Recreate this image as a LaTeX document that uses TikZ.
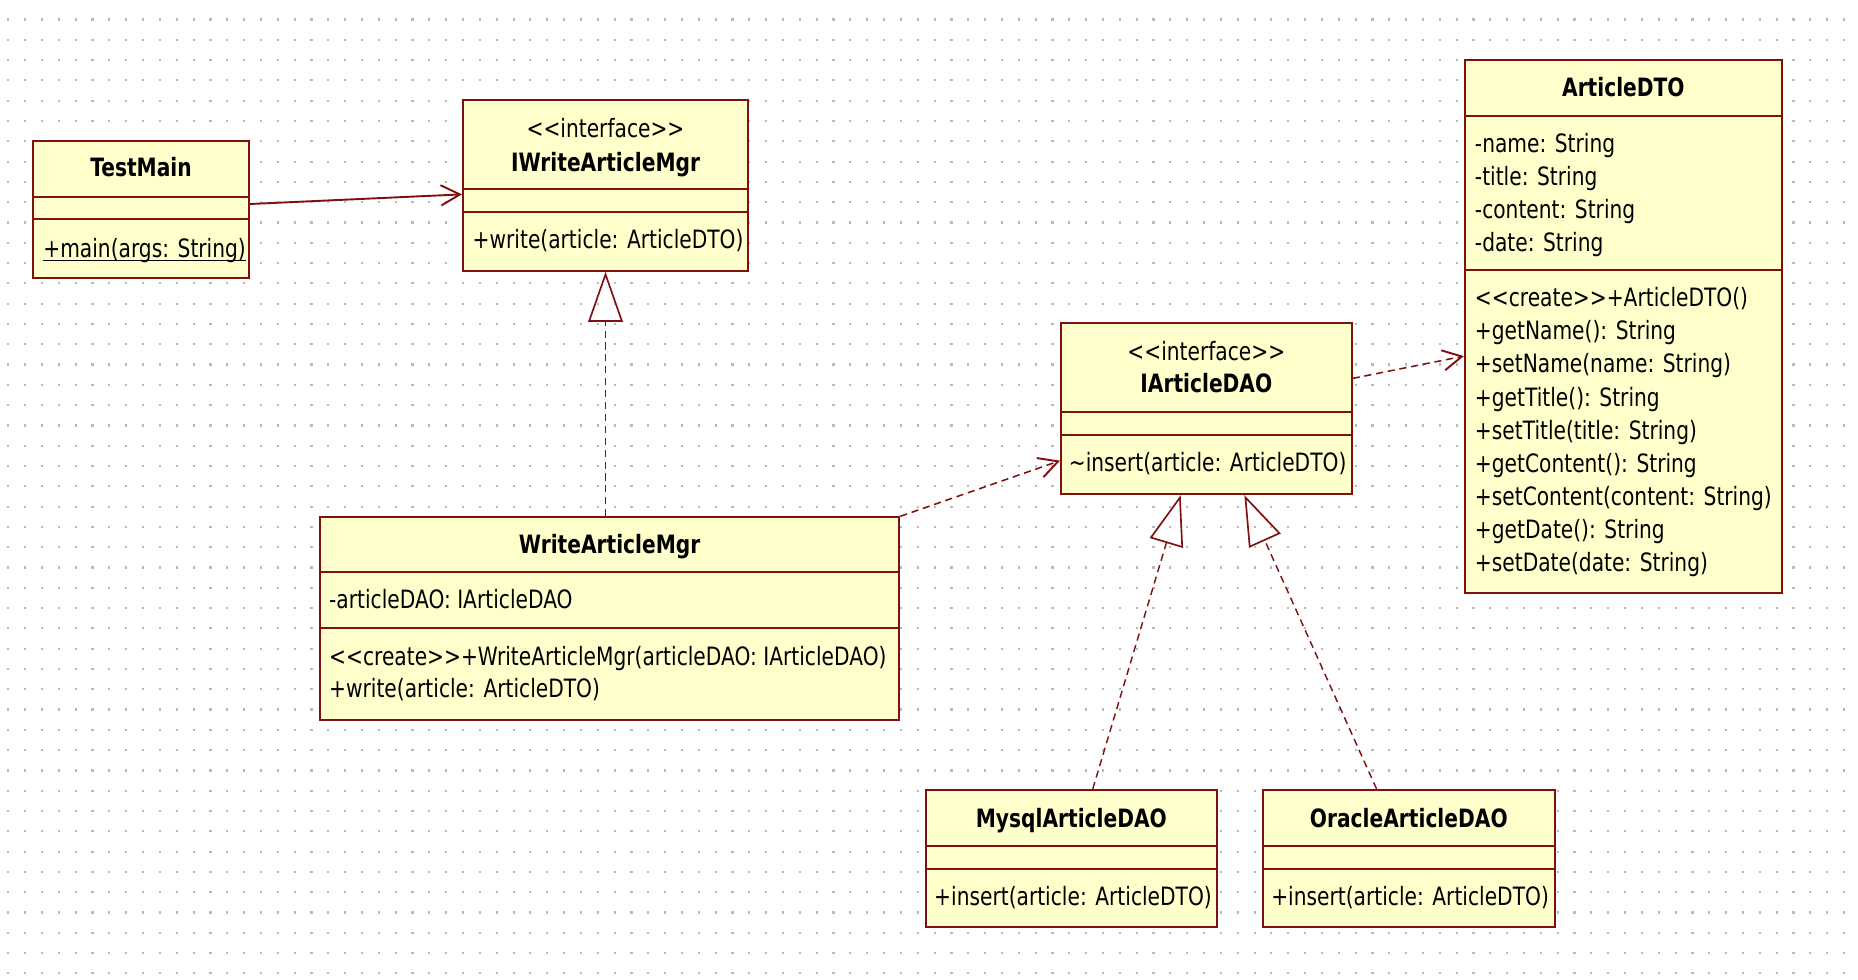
\documentclass[tikz,border=0pt]{standalone}
\usepackage{fontspec}
\setmainfont{DejaVu Sans}[FakeStretch=0.8]
\usetikzlibrary{arrows.meta,fit}

\definecolor{umlred}{RGB}{128,16,16}
\definecolor{umlfill}{RGB}{255,255,204}
\definecolor{dotgray}{RGB}{185,185,185}

\begin{document}
\begin{tikzpicture}[x=0.5pt,y=-0.5pt,
  classbox/.style={draw=umlred, fill=umlfill, line width=0.9pt, inner sep=0pt},
  sepline/.style={draw=umlred, line width=0.9pt},
  member/.style={anchor=west, inner sep=0pt, text height=8pt, text depth=0.5pt, font=\fontsize{10.6pt}{13pt}\selectfont},
  cname/.style={anchor=center, inner sep=0pt, text height=8pt, text depth=0.5pt, font=\fontsize{10.6pt}{13pt}\selectfont\bfseries},
  stereo/.style={anchor=center, inner sep=0pt, text height=8pt, text depth=0.5pt, font=\fontsize{10.6pt}{13pt}\selectfont},
  uline/.style={draw=black, line width=0.6pt},
  assoc/.style={draw=umlred, line width=0.8pt, -{Straight Barb[length=8pt,width=8.5pt,line width=0.8pt]}},
  depend/.style={draw=umlred, line width=0.65pt, dash pattern=on 3pt off 2pt, -{Straight Barb[length=8pt,width=8.5pt,line width=0.8pt]}},
  realize/.style={draw=umlred, line width=0.6pt, dash pattern=on 3pt off 2pt, -{Triangle[open,length=21pt,width=14.5pt,line width=0.7pt]}},
  dotrow/.style={draw=dotgray, line width=0.9pt, dash pattern=on 0.9pt off 6.17pt}
]
\useasboundingbox (0,0) rectangle (1560,822.8);
\fill[white] (0,0) rectangle (1560,822.8);

% dotted grid
\foreach \k in {0,...,47}
  \draw[dotrow] (6.1,{16.4+\k*17.04}) -- (1552,{16.4+\k*17.04});

% TestMain
\node[classbox, fit={(28,118.4) (208.8,233.2)}] (tm) {};
\draw[sepline] (tm.west |- 0,165.4) -- (tm.east |- 0,165.4);
\draw[sepline] (tm.west |- 0,184.1) -- (tm.east |- 0,184.1);
\node[cname] (tmn) at (tm.north |- 0,140.5) {TestMain};
\node[member] (tmm) at (36,208.5) {+main(args: String)};
\draw[uline] ([yshift=-1.3pt]tmm.base west) -- ([yshift=-1.3pt]tmm.base east);

% IWriteArticleMgr
\node[classbox, fit={(388.8,84) (628,227.3)}] (iw) {};
\draw[sepline] (iw.west |- 0,158.7) -- (iw.east |- 0,158.7);
\draw[sepline] (iw.west |- 0,177.7) -- (iw.east |- 0,177.7);
\node[stereo] (iws) at (iw.north |- 0,107.8) {<{}<interface>{}>};
\node[cname] (iwn) at (iw.north |- 0,136.3) {IWriteArticleMgr};
\node[member] (iwm) at (396.5,201.5) {+write(article: ArticleDTO)};

% ArticleDTO
\node[classbox, fit={(1230,50.4) (1496,498.2)}] (dto) {};
\draw[sepline] (dto.west |- 0,97.1) -- (dto.east |- 0,97.1);
\draw[sepline] (dto.west |- 0,226.7) -- (dto.east |- 0,226.7);
\node[cname] (dton) at (dto.north |- 0,73.3) {ArticleDTO};
\node[member] (dtoa1) at (1238,120.9) {-name: String};
\node[member] (dtoa2) at (1238,148.3) {-title: String};
\node[member] (dtoa3) at (1238,175.8) {-content: String};
\node[member] (dtoa4) at (1238,203.5) {-date: String};
\node[member] (dtom1) at (1238,250.0) {<{}<create>{}>+ArticleDTO()};
\node[member] (dtom2) at (1238,277.8) {+getName(): String};
\node[member] (dtom3) at (1238,305.6) {+setName(name: String)};
\node[member] (dtom4) at (1238,333.4) {+getTitle(): String};
\node[member] (dtom5) at (1238,361.2) {+setTitle(title: String)};
\node[member] (dtom6) at (1238,389.0) {+getContent(): String};
\node[member] (dtom7) at (1238,416.8) {+setContent(content: String)};
\node[member] (dtom8) at (1238,444.6) {+getDate(): String};
\node[member] (dtom9) at (1238,472.4) {+setDate(date: String)};

% IArticleDAO
\node[classbox, fit={(890.9,271.5) (1134.8,414.8)}] (ida) {};
\draw[sepline] (ida.west |- 0,346.2) -- (ida.east |- 0,346.2);
\draw[sepline] (ida.west |- 0,365.2) -- (ida.east |- 0,365.2);
\node[stereo] (idas) at (ida.north |- 0,295.3) {<{}<interface>{}>};
\node[cname] (idan) at (ida.north |- 0,321.8) {IArticleDAO};
\node[member] (idam) at (897,388.5) {\textasciitilde insert(article: ArticleDTO)};

% WriteArticleMgr
\node[classbox, fit={(268.7,434.4) (755,604.5)}] (wam) {};
\draw[sepline] (wam.west |- 0,480.5) -- (wam.east |- 0,480.5);
\draw[sepline] (wam.west |- 0,527.6) -- (wam.east |- 0,527.6);
\node[cname] (wamn) at (wam.north |- 0,457.6) {WriteArticleMgr};
\node[member] (wama) at (276,503.8) {-articleDAO: IArticleDAO};
\node[member] (wamm1) at (276,551.4) {<{}<create>{}>+WriteArticleMgr(articleDAO: IArticleDAO)};
\node[member] (wamm2) at (276,578.5) {+write(article: ArticleDTO)};

% MysqlArticleDAO
\node[classbox, fit={(777.5,663.3) (1021.5,778.6)}] (my) {};
\draw[sepline] (my.west |- 0,710.3) -- (my.east |- 0,710.3);
\draw[sepline] (my.west |- 0,729.6) -- (my.east |- 0,729.6);
\node[cname] (myn) at (my.north |- 0,687) {MysqlArticleDAO};
\node[member] (mym) at (784,752.9) {+insert(article: ArticleDTO)};

% OracleArticleDAO
\node[classbox, fit={(1060.4,663.3) (1305.3,778.6)}] (ora) {};
\draw[sepline] (ora.west |- 0,710.3) -- (ora.east |- 0,710.3);
\draw[sepline] (ora.west |- 0,729.6) -- (ora.east |- 0,729.6);
\node[cname] (oran) at (ora.north |- 0,687) {OracleArticleDAO};
\node[member] (oram) at (1067,752.9) {+insert(article: ArticleDTO)};

% connectors
\draw[assoc] (tm.east |- 0,171.3) -- (iw.west |- 0,163.2);
\draw[realize] (iw.south |- wam.north) -- (iw.south);
\draw[depend] (wam.north east) -- (ida.west |- 0,386.8);
\draw[depend] (ida.east |- 0,317.7) -- (dto.west |- 0,299);
\draw[realize] (my.north -| 917.5,0) -- (ida.south -| 991.3,0);
\draw[realize] (ora.north -| 1155.8,0) -- (ida.south -| 1044.8,0);
\end{tikzpicture}
\end{document}
